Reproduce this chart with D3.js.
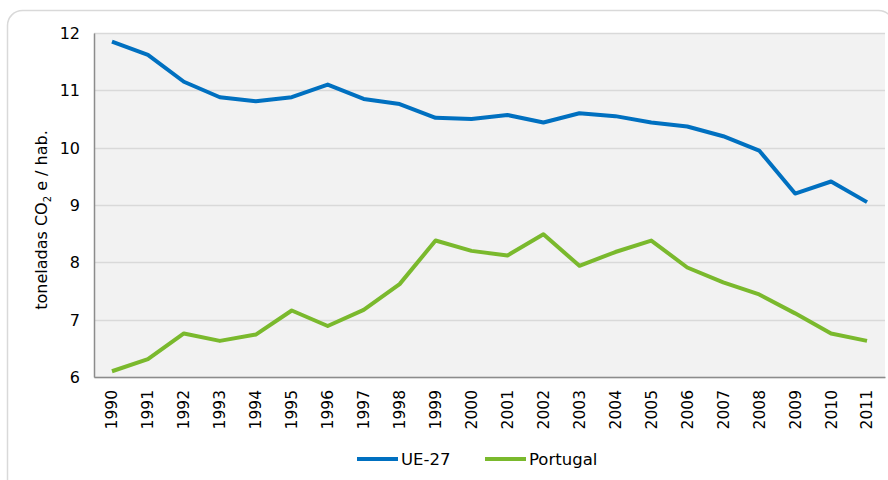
<!DOCTYPE html>
<html><head><meta charset="utf-8">
<script src="https://cdn.jsdelivr.net/npm/d3@7"></script>
<style>body{margin:0;background:#fff}svg{display:block}text{font-family:"DejaVu Sans",Verdana,sans-serif;fill:#000}</style>
</head><body><svg id="c" width="888" height="480"></svg>
<script>
const years = ["1990","1991","1992","1993","1994","1995","1996","1997","1998","1999","2000","2001","2002","2003","2004","2005","2006","2007","2008","2009","2010","2011"];
const ue27 = [11.85,11.62,11.15,10.88,10.81,10.88,11.1,10.85,10.76,10.52,10.5,10.57,10.44,10.6,10.55,10.44,10.37,10.2,9.95,9.2,9.41,9.05];
const portugal = [6.1,6.31,6.76,6.63,6.74,7.16,6.89,7.17,7.62,8.38,8.2,8.12,8.49,7.94,8.18,8.38,7.91,7.65,7.44,7.11,6.76,6.63];
const yTicks = [6,7,8,9,10,11,12];
const seriesNames = ["UE-27","Portugal"];
const colors = ["#0070c0","#7ab92d"];

const svg = d3.select("#c");
svg.append("rect").attr("x",7.5).attr("y",10.5).attr("width",886).attr("height",490).attr("rx",15)
  .attr("fill","#fff").attr("stroke","#d9d9d9").attr("stroke-width",1.5);

const L=94, R=885, T=33, B=377;
const x = d3.scaleBand().domain(years).range([L,R]);
const y = d3.scaleLinear().domain([6,12]).range([B,T]);

svg.append("rect").attr("x",L).attr("y",T).attr("width",R-L).attr("height",B-T).attr("fill","#f2f2f2");

svg.append("g").selectAll("line").data(yTicks).join("line")
  .attr("x1",L).attr("x2",R).attr("y1",d=>Math.round(y(d))+0.5).attr("y2",d=>Math.round(y(d))+0.5)
  .attr("stroke","#d9d9d9").attr("stroke-width",1.5);

const ya = svg.append("g").attr("transform",`translate(${L},0)`)
  .call(d3.axisLeft(y).tickValues(yTicks).tickFormat(d3.format("d")).tickSize(0).tickPadding(14));
ya.select(".domain").attr("stroke","#8c8c8c").attr("stroke-width",1.5);
ya.selectAll("text").style("font-size","16px").attr("dy","0.35em");

const xa = svg.append("g").attr("transform",`translate(0,${B})`)
  .call(d3.axisBottom(x).tickSize(0).tickPadding(0));
xa.select(".domain").attr("stroke","#8c8c8c").attr("stroke-width",1.5);
xa.selectAll("text").style("font-size","15.5px")
  .attr("transform","rotate(-90)").attr("text-anchor","end")
  .attr("x",-13).attr("y",0).attr("dy","0.35em");

const yl = svg.append("text").attr("transform","translate(47,220) rotate(-90)")
  .attr("text-anchor","middle").style("font-size","16px");
yl.append("tspan").text("toneladas CO");
yl.append("tspan").text("2").style("font-size","10px").attr("dy","4");
yl.append("tspan").text(" e / hab.").attr("dy","-4");

const line = d3.line().x((d,i)=>x(years[i])+x.bandwidth()/2).y(d=>y(d));
[ue27,portugal].forEach((s,k)=>{
  svg.append("path").datum(s).attr("d",line).attr("fill","none")
    .attr("stroke",colors[k]).attr("stroke-width",4).attr("stroke-linejoin","round");
});

const legX=[357,485];
seriesNames.forEach((n,k)=>{
  svg.append("line").attr("x1",legX[k]).attr("x2",legX[k]+41).attr("y1",459).attr("y2",459)
    .attr("stroke",colors[k]).attr("stroke-width",4);
  svg.append("text").attr("x",legX[k]+44).attr("y",459).attr("dy","0.35em").style("font-size","16.5px").text(n);
});
</script></body></html>
